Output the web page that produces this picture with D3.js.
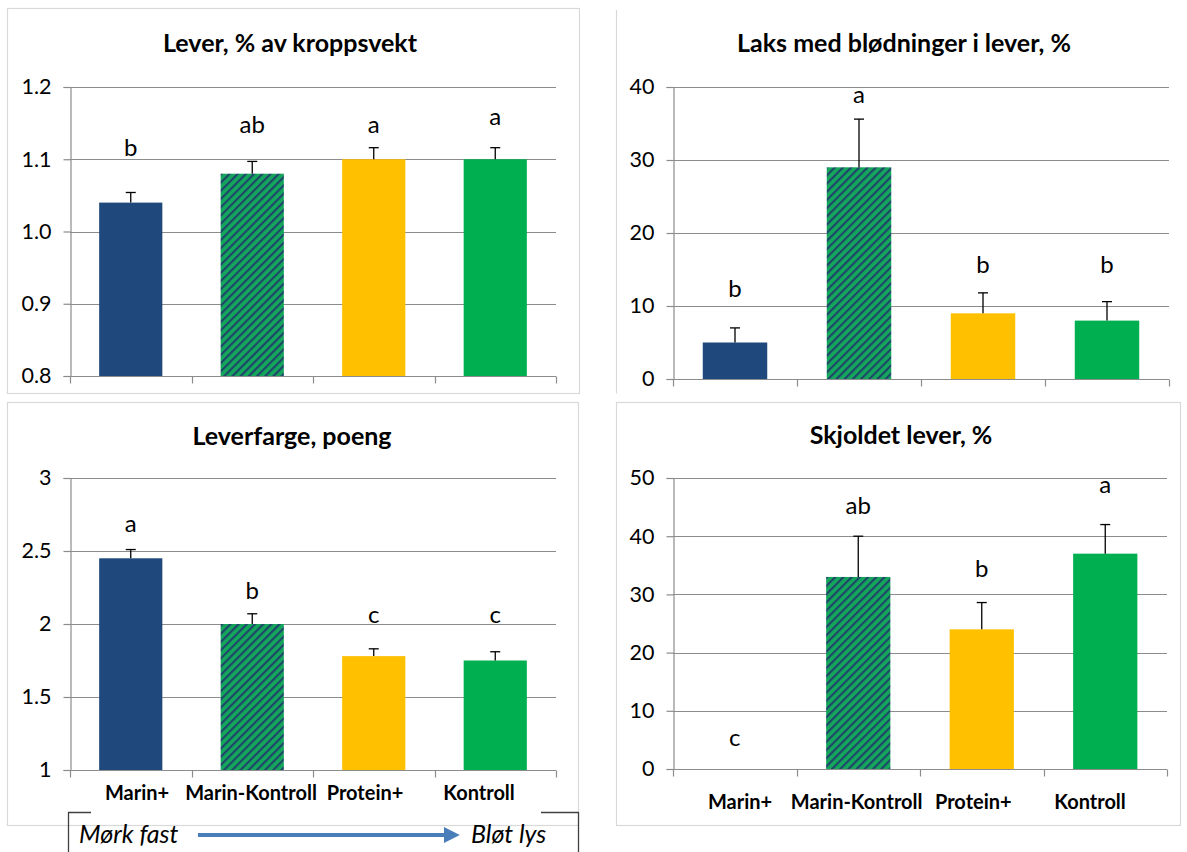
<!DOCTYPE html>
<html lang="no">

<head>
    <meta charset="UTF-8">
    <title>Lever - fire paneler</title>

    <script src="https://d3js.org/d3.v7.min.js"></script>

    <style>
        body {
            margin: 0;
            background: #fff;
        }

        text {
            font-family: Lato, "Open Sans", sans-serif;
            fill: #000;
        }

        .tick-label {
            font-size: 21.5px;
        }

        .title {
            font-size: 25px;
            font-weight: bold;
        }

        .letter {
            font-size: 24px;
        }

        .cat-label {
            font-size: 20px;
            font-weight: bold;
        }

        .note {
            font-size: 25px;
            font-style: italic;
        }
    </style>

</head>

<body>
    <svg width="1187" height="852"></svg>

    <script>
        // data
        const categories = ["Marin+", "Marin-Kontroll", "Protein+", "Kontroll"];

        const leverValues = [1.04, 1.08, 1.10, 1.10];
        const leverErrors = [0.014, 0.017, 0.016, 0.016];
        const leverLetters = ["b", "ab", "a", "a"];
        const leverLetterAt = [1.105, 1.137, 1.137, 1.148];
        const leverTicks = [0.8, 0.9, 1.0, 1.1, 1.2];

        const bleedValues = [5, 29, 9, 8];
        const bleedErrors = [2, 6.6, 2.8, 2.6];
        const bleedLetters = ["b", "a", "b", "b"];
        const bleedLetterAt = [11.2, 37.8, 14.5, 14.5];
        const bleedTicks = [0, 10, 20, 30, 40];

        const colourValues = [2.45, 2.0, 1.78, 1.75];
        const colourErrors = [0.06, 0.07, 0.05, 0.06];
        const colourLetters = ["a", "b", "c", "c"];
        const colourLetterAt = [2.63, 2.17, 2.01, 2.01];
        const colourTicks = [1, 1.5, 2, 2.5, 3];

        const spotValues = [0, 33, 24, 37];
        const spotErrors = [0, 7, 4.6, 5];
        const spotLetters = ["c", "ab", "b", "a"];
        const spotLetterAt = [4.0, 43.8, 33, 47.4];
        const spotTicks = [0, 10, 20, 30, 40, 50];

        const barFills = ["#1f497d", "url(#hatch)", "#ffc000", "#00b050"];

        let svg = d3.select("svg");

        // diagonal hatch for Marin-Kontroll
        const hatch = svg.append("defs").append("pattern")
            .attr("id", "hatch")
            .attr("patternUnits", "userSpaceOnUse")
            .attr("width", 5.8)
            .attr("height", 5.8)
            .attr("patternTransform", "rotate(45)");
        hatch.append("rect").attr("width", 5.8).attr("height", 5.8).attr("fill", "#14a75c");
        hatch.append("line")
            .attr("x1", 1.1).attr("y1", 0).attr("x2", 1.1).attr("y2", 5.8)
            .attr("stroke", "#1f426a").attr("stroke-width", 2.1);

        // panel frames
        const frame = svg.append("g")
            .attr("fill", "none")
            .attr("stroke", "#d9d9d9")
            .attr("stroke-width", 1.2);
        frame.append("rect").attr("x", 7.5).attr("y", 8.5).attr("width", 572).attr("height", 385);
        frame.append("path").attr("d", "M616.5,10V393.5");
        frame.append("rect").attr("x", 7.5).attr("y", 402.5).attr("width", 571).attr("height", 423);
        frame.append("rect").attr("x", 616.5).attr("y", 402.5).attr("width", 564).attr("height", 423);

        const panels = [
            {
                title: "Lever, % av kroppsvekt", titleX: 290, titleY: 52,
                x0: 70, x1: 556, yTop: 87, yBottom: 376,
                domain: [0.8, 1.2], ticks: leverTicks, format: d3.format(".1f"),
                values: leverValues, errors: leverErrors, letters: leverLetters, letterAt: leverLetterAt,
                catLabels: false
            },
            {
                title: "Laks med blødninger i lever, %", titleX: 904, titleY: 52,
                x0: 673, x1: 1169, yTop: 87, yBottom: 379,
                domain: [0, 40], ticks: bleedTicks, format: d3.format("d"),
                values: bleedValues, errors: bleedErrors, letters: bleedLetters, letterAt: bleedLetterAt,
                catLabels: false
            },
            {
                title: "Leverfarge, poeng", titleX: 292, titleY: 445,
                x0: 70, x1: 556, yTop: 478, yBottom: 770,
                domain: [1, 3], ticks: colourTicks, format: d => d,
                values: colourValues, errors: colourErrors, letters: colourLetters, letterAt: colourLetterAt,
                catLabels: true, labelY: 800
            },
            {
                title: "Skjoldet lever, %", titleX: 901, titleY: 444,
                x0: 673, x1: 1167, yTop: 478, yBottom: 769,
                domain: [0, 50], ticks: spotTicks, format: d3.format("d"),
                values: spotValues, errors: spotErrors, letters: spotLetters, letterAt: spotLetterAt,
                catLabels: true, labelY: 809
            }
        ];

        panels.forEach(function (p) {
            const g = svg.append("g");

            const x = d3.scaleBand()
                .domain(categories)
                .range([p.x0, p.x1])
                .paddingInner(0.48)
                .paddingOuter(0.24);

            const y = d3.scaleLinear()
                .domain(p.domain)
                .range([p.yBottom, p.yTop]);

            // gridlines
            g.append("g")
                .selectAll("line")
                .data(p.ticks.slice(1))
                .enter()
                .append("line")
                .attr("x1", p.x0).attr("x2", p.x1)
                .attr("y1", d => Math.round(y(d)) + 0.5)
                .attr("y2", d => Math.round(y(d)) + 0.5)
                .attr("stroke", "#8c8c8c")
                .attr("stroke-width", 1.2);

            // y axis
            const yAxis = g.append("g")
                .attr("transform", "translate(" + (p.x0 + 0.5) + ",0)")
                .call(d3.axisLeft(y).tickValues(p.ticks).tickFormat(p.format).tickSize(7).tickPadding(12));
            yAxis.select(".domain").attr("stroke", "#8c8c8c").attr("stroke-width", 1.2);
            yAxis.selectAll(".tick line").attr("stroke", "#8c8c8c").attr("stroke-width", 1.2);
            yAxis.selectAll(".tick text")
                .attr("class", "tick-label")
                .attr("fill", "#000");
            yAxis.attr("font-size", null).attr("font-family", null);

            // x axis line with ticks at the category boundaries
            const base = Math.round(y(p.domain[0])) + 0.5;
            g.append("line")
                .attr("x1", p.x0).attr("x2", p.x1)
                .attr("y1", base).attr("y2", base)
                .attr("stroke", "#8c8c8c").attr("stroke-width", 1.2);
            g.append("g")
                .selectAll("line")
                .data(d3.range(categories.length + 1))
                .enter()
                .append("line")
                .attr("x1", i => Math.round(p.x0 + i * x.step()) + 0.5)
                .attr("x2", i => Math.round(p.x0 + i * x.step()) + 0.5)
                .attr("y1", base).attr("y2", base + 7)
                .attr("stroke", "#8c8c8c").attr("stroke-width", 1.2);

            // bars
            g.append("g")
                .selectAll("rect")
                .data(categories)
                .enter()
                .append("rect")
                .attr("x", d => x(d))
                .attr("width", x.bandwidth())
                .attr("y", (d, i) => y(p.values[i]))
                .attr("height", (d, i) => y(p.domain[0]) - y(p.values[i]))
                .attr("fill", (d, i) => barFills[i]);

            // error bars, upper half only
            const err = g.append("g")
                .attr("stroke", "#000")
                .attr("stroke-width", 1.3);
            categories.forEach(function (c, i) {
                if (!p.errors[i]) return;
                const cx = x(c) + x.bandwidth() / 2;
                const y0 = y(p.values[i]);
                const y1 = y(p.values[i] + p.errors[i]);
                err.append("line").attr("x1", cx).attr("x2", cx).attr("y1", y0).attr("y2", y1);
                err.append("line").attr("x1", cx - 5).attr("x2", cx + 5).attr("y1", y1).attr("y2", y1);
            });

            // significance letters
            g.append("g")
                .selectAll("text")
                .data(categories)
                .enter()
                .append("text")
                .attr("class", "letter")
                .attr("text-anchor", "middle")
                .attr("x", d => x(d) + x.bandwidth() / 2)
                .attr("y", (d, i) => y(p.letterAt[i]))
                .text((d, i) => p.letters[i]);

            // title
            g.append("text")
                .attr("class", "title")
                .attr("text-anchor", "middle")
                .attr("x", p.titleX)
                .attr("y", p.titleY)
                .text(p.title);

            // category labels (set in a separate text box in the original)
            if (p.catLabels) {
                const lx = d3.scalePoint()
                    .domain(categories)
                    .range([p.x0 + 67, p.x1 - 77]);
                g.append("g")
                    .selectAll("text")
                    .data(categories)
                    .enter()
                    .append("text")
                    .attr("class", "cat-label")
                    .attr("text-anchor", "middle")
                    .attr("x", d => lx(d))
                    .attr("y", p.labelY)
                    .text(d => d);
            }
        });

        // "Mørk fast -> Bløt lys" bracket under the bottom-left panel
        const note = svg.append("g");
        note.append("path")
            .attr("d", "M68.5,852V812.5H91 M541,812.5H578.5V852")
            .attr("fill", "none")
            .attr("stroke", "#404040")
            .attr("stroke-width", 1.3);
        note.append("text").attr("class", "note").attr("x", 79).attr("y", 843).text("Mørk fast");
        note.append("text").attr("class", "note").attr("x", 471).attr("y", 843).text("Bløt lys");

        svg.append("defs").append("marker")
            .attr("id", "head")
            .attr("viewBox", "0 0 10 10")
            .attr("refX", 2).attr("refY", 5)
            .attr("markerWidth", 4).attr("markerHeight", 4)
            .attr("orient", "auto")
            .append("path")
            .attr("d", "M0,0L10,5L0,10Z")
            .attr("fill", "#4a7ebb");
        note.append("line")
            .attr("x1", 198).attr("x2", 447)
            .attr("y1", 835).attr("y2", 835)
            .attr("stroke", "#4a7ebb")
            .attr("stroke-width", 4)
            .attr("marker-end", "url(#head)");
    </script>
</body>

</html>
